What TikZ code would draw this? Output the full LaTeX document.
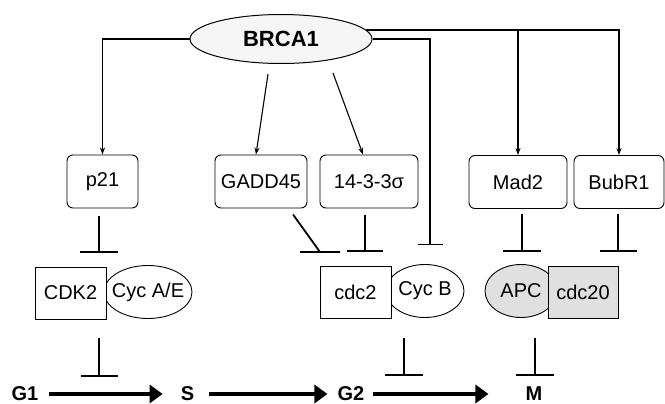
\documentclass[tikz,border=0pt]{standalone}
\usepackage{fontspec}
\setmainfont{Liberation Sans}
\usetikzlibrary{arrows.meta,shapes.geometric}
\begin{document}
\begin{tikzpicture}[x=1pt,y=-1pt,
  every node/.style={font=\fontsize{20}{24}\selectfont, inner sep=0pt},
  protbox/.style={draw, line width=0.9pt, rounded corners=6pt, minimum width=#1, minimum height=53pt},
  kinbox/.style={draw, line width=0.9pt, fill=white, minimum width=#1, minimum height=52pt},
  cyc/.style={draw, ellipse, line width=0.9pt, fill=white, minimum width=#1, minimum height=53pt},
  act/.style={line width=1.1pt, -{Stealth[length=7pt,width=5pt]}},
  inh/.style={line width=1.8pt, -{Bar[width=#1]}},
  phase/.style={font=\fontsize{20}{24}\selectfont\bfseries},
  prog/.style={line width=4.5pt, -{Triangle[length=13pt,width=18pt]}},
  shade/.style={fill=gray!24},
]
\useasboundingbox (0,0) rectangle (665,404);

% BRCA1
\node[ellipse, draw, line width=1pt, fill=gray!7, minimum width=182pt, minimum height=49pt,
      font=\fontsize{22}{26}\selectfont\bfseries] (brca) at (281,39) {BRCA1};

% first-level proteins
\node[protbox=71pt] (p21) at (102.5,181.5) {p21};
\node[protbox=92pt] (gadd) at (261,181.5) {GADD45};
\node[protbox=98pt] (sig) at (369,181.5) {14-3-3σ};
\node[protbox=98pt] (mad) at (518,182) {Mad2};
\node[protbox=90pt] (bub) at (619,182) {BubR1};

% complexes
\node[cyc=88pt, label={center:Cyc A/E}] (cycae) at (148,292) {};
\node[kinbox=71pt] (cdk) at (70.5,293) {CDK2};
\node[cyc=78pt, label={center:Cyc B}] (cycb) at (425,291) {};
\node[kinbox=71pt] (cdc) at (355.5,292.5) {cdc2};
\node[cyc=72pt, shade, label={center:APC}] (apc) at (521,291) {};
\node[kinbox=70pt, shade] (cdctw) at (583,292.5) {cdc20};

% phases
\node[phase] (G1) at (25,394) {G1};
\node[phase] (S) at (187.5,394) {S};
\node[phase] (G2) at (351,394) {G2};
\node[phase] (M) at (534,394) {M};

% BRCA1 activations
\draw[act] (brca.west) -| (p21.north);
\draw[act] (brca.6) -| (bub.north);
\draw[act] (brca.6 -| mad.north) -- (mad.north);
\draw[act] ([xshift=-13pt,yshift=-10pt]brca.south) -- ([xshift=-5pt]gadd.north);
\draw[act] ([xshift=52pt,yshift=-9pt]brca.south) -- ([xshift=-6pt]sig.north);

% BRCA1 direct inhibition of cdc2/CycB
\draw[inh=25pt, line width=1.3pt, shorten >=19pt] (brca.east) -| ([xshift=5pt]cycb.north);

% inhibitions of complexes
\draw[inh=38pt, shorten <=8pt, shorten >=14pt] ([xshift=-3.5pt]p21.south) -- ([xshift=-3.5pt]p21.south |- cdk.north);
\draw[line width=1.8pt] ([xshift=32pt,yshift=-6pt]gadd.south) -- ([xshift=-35.5pt,yshift=14pt]cdc.north)
      ++(-20pt,0) -- ++(40pt,0);
\draw[inh=36pt, shorten <=7pt, shorten >=14pt] ([xshift=-4pt]sig.south) -- ([xshift=-4pt]sig.south |- cdc.north);
\draw[inh=38pt, shorten <=5pt, shorten >=14pt] ([xshift=4pt]mad.south) -- ([xshift=4pt]mad.south |- cdctw.north);
\draw[inh=37pt, shorten <=5pt, shorten >=14pt] ([xshift=-1pt]bub.south) -- ([xshift=-1pt]bub.south |- cdctw.north);

% inhibitions of transitions
\draw[inh=37pt, shorten <=19pt, shorten >=17pt] ([xshift=28.5pt]cdk.south) -- ([xshift=28.5pt]cdk.south |- G1.center);
\draw[inh=38pt, shorten <=19pt, shorten >=18pt] ([xshift=48.5pt]cdc.south) -- ([xshift=48.5pt]cdc.south |- G2.center);
\draw[inh=38pt, shorten <=19pt, shorten >=18pt] ([xshift=-48pt]cdctw.south) -- ([xshift=-48pt]cdctw.south |- M.center);

% cell-cycle progression
\draw[prog, shorten <=10pt, shorten >=18pt] (G1.east) -- (S.west);
\draw[prog, shorten <=15pt, shorten >=10pt] (S.east) -- (G2.west);
\draw[prog, shorten <=8pt, shorten >=37pt] (G2.east) -- (M.west);
\end{tikzpicture}
\end{document}
